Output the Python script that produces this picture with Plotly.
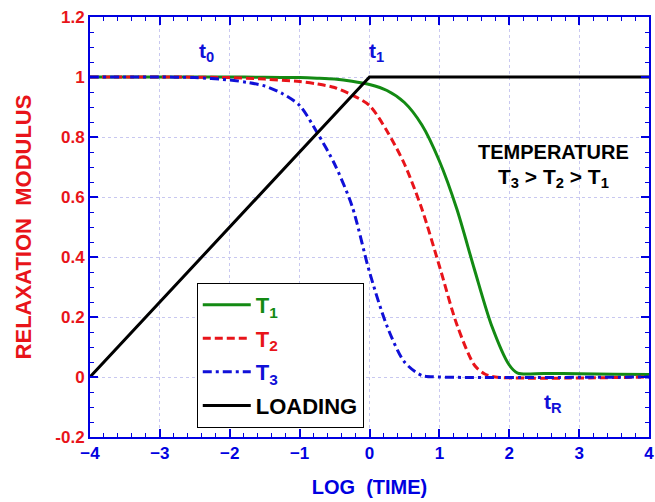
import plotly.graph_objects as go

# ---- data ----
t1_x = [-4, -3, -2, -1.5, -1, -0.75, -0.5, -0.25, 0, 0.25, 0.5, 0.75, 1, 1.25, 1.5, 1.75, 2, 2.12, 2.5, 3, 3.5, 4]
t1_y = [1, 1, 1, 0.999, 0.998, 0.996, 0.993, 0.986, 0.975, 0.955, 0.915, 0.84, 0.72, 0.56, 0.36, 0.17, 0.04, 0.013, 0.012, 0.011, 0.009, 0.008]

t2_x = [-4, -3, -2, -1.5, -1, -0.75, -0.5, -0.25, 0, 0.25, 0.5, 0.75, 1, 1.25, 1.5, 1.65, 1.8, 4]
t2_y = [1, 1, 0.998, 0.993, 0.985, 0.977, 0.965, 0.94, 0.905, 0.82, 0.71, 0.56, 0.37, 0.175, 0.04, 0.01, 0, 0]

t3_x = [-4, -3, -2.5, -2, -1.75, -1.5, -1.25, -1, -0.75, -0.5, -0.25, 0, 0.25, 0.5, 0.75, 1, 4]
t3_y = [1, 1, 0.998, 0.99, 0.982, 0.97, 0.945, 0.905, 0.815, 0.71, 0.57, 0.35, 0.17, 0.05, 0.005, 0, 0]

load_x = [-4, 0, 4]
load_y = [0, 1, 1]

x_ticks = [-4, -3, -2, -1, 0, 1, 2, 3, 4]
y_ticks = [-0.2, 0, 0.2, 0.4, 0.6, 0.8, 1, 1.2]
y_tick_text = ["-0.2", "0", "0.2", "0.4", "0.6", "0.8", "1", "1.2"]

GREEN = "#138a13"
RED = "#e8141a"
BLUE = "#1010d8"
AXIS_BLUE = "#0000e0"
FONT = "Liberation Sans, Arial, sans-serif"

fig = go.Figure()
fig.add_trace(go.Scatter(x=t1_x, y=t1_y, mode="lines", legendgroup="a",
                         line=dict(color=GREEN, width=3, shape="spline", smoothing=0.8),
                         name=f"<span style='color:{GREEN}'>T<sub>1</sub></span>"))
fig.add_trace(go.Scatter(x=t2_x, y=t2_y, mode="lines", legendgroup="b",
                         line=dict(color=RED, width=3, dash="8px,4px", shape="spline", smoothing=0.8),
                         name=f"<span style='color:{RED}'>T<sub>2</sub></span>"))
fig.add_trace(go.Scatter(x=t3_x, y=t3_y, mode="lines", legendgroup="c",
                         line=dict(color=BLUE, width=3, dash="9px,4px,3px,4px", shape="spline", smoothing=0.8),
                         name=f"<span style='color:{BLUE}'>T<sub>3</sub></span>"))
fig.add_trace(go.Scatter(x=load_x, y=load_y, mode="lines", legendgroup="d",
                         line=dict(color="black", width=3),
                         name="<span style='color:black'>LOADING</span>"))

grid = dict(showgrid=True, gridcolor="#c8c8f0", gridwidth=1, griddash="dot")

fig.update_xaxes(range=[-4, 4], tickvals=x_ticks, ticks="inside", ticklen=8, tickwidth=2, tickcolor=AXIS_BLUE,
                 showline=True, linecolor=AXIS_BLUE, linewidth=2, mirror="allticks", zeroline=False,
                 automargin=False,
                 minor=dict(dtick=0.2, ticks="inside", ticklen=4, tickwidth=1, tickcolor=AXIS_BLUE, showgrid=False),
                 tickfont=dict(family=FONT, size=17, color=AXIS_BLUE, weight="bold"),
                 title=dict(text="LOG  (TIME)", font=dict(family=FONT, size=20, color=AXIS_BLUE, weight="bold"), standoff=18),
                 **grid)
fig.update_yaxes(range=[-0.2, 1.2], tickvals=y_ticks, ticktext=y_tick_text, ticks="inside", ticklen=8, tickwidth=2, tickcolor=AXIS_BLUE,
                 showline=True, linecolor=AXIS_BLUE, linewidth=2, mirror="allticks", zeroline=False,
                 automargin=False,
                 minor=dict(dtick=0.05, ticks="inside", ticklen=4, tickwidth=1, tickcolor=AXIS_BLUE, showgrid=False),
                 tickfont=dict(family=FONT, size=17, color=RED, weight="bold"),
                 title=dict(text="RELAXATION  MODULUS", font=dict(family=FONT, size=22, color=RED, weight="bold"), standoff=18),
                 **grid)

ann_font = dict(family=FONT, size=21, color=BLUE, weight="bold")
fig.add_annotation(x=-2.33, y=1.085, text="t<sub>0</sub>", showarrow=False, font=ann_font)
fig.add_annotation(x=0.1, y=1.085, text="t<sub>1</sub>", showarrow=False, font=ann_font)
fig.add_annotation(x=2.62, y=-0.085, text="t<sub>R</sub>", showarrow=False, font=ann_font)
fig.add_annotation(x=2.63, y=0.75, text="TEMPERATURE", showarrow=False,
                   font=dict(family=FONT, size=20, color="black", weight="bold"))
fig.add_annotation(x=2.63, y=0.665, text="T<sub>3</sub> > T<sub>2</sub> > T<sub>1</sub>", showarrow=False,
                   font=dict(family=FONT, size=21, color="black", weight="bold"))

fig.update_layout(
    width=655, height=502,
    margin=dict(l=90, r=6, t=17, b=65),
    plot_bgcolor="white", paper_bgcolor="white",
    showlegend=True,
    legend=dict(x=0.191, y=0.367, xanchor="left", yanchor="top", bgcolor="white",
                bordercolor="black", borderwidth=1, tracegroupgap=2,
                font=dict(family=FONT, size=22, weight="bold"), itemwidth=48),
)

fig.write_html("out.html")
